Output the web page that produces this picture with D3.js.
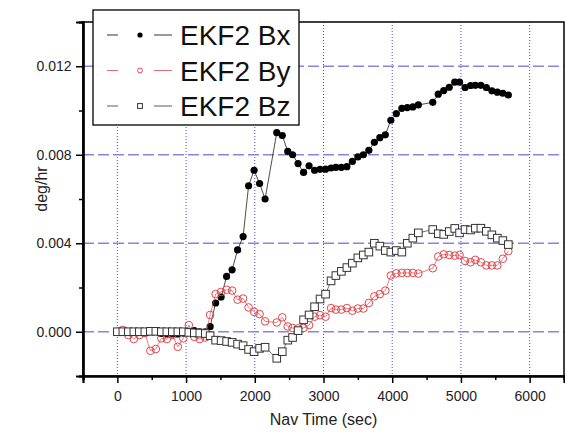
<!DOCTYPE html>
<html>
<head>
<meta charset="utf-8">
<script src="https://cdn.jsdelivr.net/npm/d3@7"></script>
<style>
    body { margin: 0; background: #fff; }
    text { font-family: Arial, "Liberation Sans", sans-serif; }
</style>
</head>
<body>
<div id="chart"></div>
<script>
// nav time (sec), shared by the three series
var navTime = [0, 80, 160, 240, 320, 400, 480, 560, 640, 720, 800, 880, 960, 1040, 1120, 1200, 1280,
    1350, 1430, 1510, 1590, 1670, 1750, 1830, 1910, 1990, 2070, 2150,
    2320, 2400, 2480, 2550, 2630, 2710, 2790, 2870, 2950, 3030, 3110, 3180, 3260, 3340, 3420, 3500,
    3580, 3660, 3740, 3820, 3900, 3980, 4060, 4140, 4220, 4300, 4380,
    4590, 4670, 4750, 4830, 4910, 4980, 5060, 5140, 5210, 5290, 5370, 5450, 5530, 5610, 5690];

var ekf2Bx = [0, 0, 0, 0, 0, -0.00005, 0, 0, -0.00008, -0.0001, -0.0001, -0.0001, -0.00006, 0.00002, 0.00005, 0, 0,
    0.00023, 0.0013, 0.00157, 0.0025, 0.0028, 0.0037, 0.0043, 0.0066, 0.0073, 0.0067, 0.0060,
    0.0090, 0.00887, 0.00815, 0.0080, 0.0076, 0.0072, 0.0075, 0.0073, 0.00734, 0.00735, 0.0074, 0.00743, 0.00743, 0.00746, 0.0077, 0.0079,
    0.0080, 0.0082, 0.00856, 0.00877, 0.0089, 0.00956, 0.00986, 0.0101, 0.01013, 0.01016, 0.01025,
    0.01037, 0.01074, 0.0109, 0.01105, 0.01128, 0.01128, 0.01104, 0.01113, 0.01114, 0.01114, 0.01104, 0.01089, 0.01083, 0.01078, 0.0107];

var ekf2By = [0, 0.00008, -0.00015, -0.00033, -0.00015, -0.00006, -0.00086, -0.00078, -0.0003, -0.00033, -0.00015, -0.00068, -0.0003, 0.0003, -0.00023, -0.00033, -0.00026,
    0.00076, 0.0017, 0.0018, 0.0019, 0.00186, 0.00145, 0.0015, 0.0011, 0.0009, 0.0008, 0.00047,
    0.00042, 0.00065, 0.00024, 0.00017, 0.00015, 0.00017, 0.0003, 0.00068, 0.00075, 0.00068, 0.00107, 0.001, 0.001, 0.00107, 0.00095, 0.00105,
    0.00105, 0.0013, 0.0016, 0.0017, 0.00186, 0.00254, 0.00264, 0.00266, 0.00266, 0.00266, 0.00263,
    0.00287, 0.0034, 0.0035, 0.00347, 0.00344, 0.00347, 0.0032, 0.00314, 0.00325, 0.00314, 0.003, 0.003, 0.003, 0.0033, 0.00364];

var ekf2Bz = [0, 0, 0, 0, 0, 0, 0.00002, 0.00002, 0, 0, 0, 0, 0, -0.00003, -0.00005, -0.00006, -0.00008,
    -0.00018, -0.00038, -0.0004, -0.00044, -0.00048, -0.00056, -0.00063, -0.0008, -0.0009, -0.00075, -0.0007,
    -0.0012, -0.0009, -0.00038, -0.00026, 0.00005, 0.00054, 0.00076, 0.00113, 0.00148, 0.0017, 0.0023, 0.00254, 0.00273, 0.0029, 0.0031, 0.00334,
    0.00347, 0.0036, 0.0040, 0.00387, 0.00367, 0.0036, 0.00367, 0.0036, 0.004, 0.00423, 0.00447,
    0.00462, 0.00443, 0.0044, 0.00453, 0.00467, 0.00447, 0.00462, 0.0046, 0.00468, 0.00468, 0.00454, 0.00438, 0.00423, 0.00412, 0.00394];

var seriesNames = ["EKF2 Bx", "EKF2 By", "EKF2 Bz"];
var xTicks = [0, 1000, 2000, 3000, 4000, 5000, 6000];
var yTicks = [0.000, 0.004, 0.008, 0.012];

var width = 565, height = 432;
var margin = {top: 22, right: 1, bottom: 56, left: 83};

var svg = d3.select("#chart")
    .append("svg")
    .attr("width", width)
    .attr("height", height);

var x = d3.scaleLinear().domain([-500, 6500]).range([margin.left, width - margin.right]);
var y = d3.scaleLinear().domain([-0.002, 0.014]).range([height - margin.bottom, margin.top]);

// grid
svg.append("g")
    .selectAll("line")
    .data(xTicks)
    .join("line")
    .attr("x1", d => x(d)).attr("x2", d => x(d))
    .attr("y1", y(0.014)).attr("y2", y(-0.002))
    .attr("stroke", "#4b47d6")
    .attr("stroke-width", 1)
    .attr("stroke-dasharray", "1,2");

svg.append("g")
    .selectAll("line")
    .data(yTicks)
    .join("line")
    .attr("x1", x(-500)).attr("x2", x(6500))
    .attr("y1", d => y(d)).attr("y2", d => y(d))
    .attr("stroke", "#8a85dc")
    .attr("stroke-width", 1.3)
    .attr("stroke-dasharray", "11,4");

// frame
svg.append("rect")
    .attr("x", x(-500)).attr("y", y(0.014))
    .attr("width", x(6500) - x(-500))
    .attr("height", y(-0.002) - y(0.014))
    .attr("fill", "none")
    .attr("stroke", "#000")
    .attr("stroke-width", 1.5);

// axes with major and minor ticks
var xAxis = d3.axisBottom(x).tickValues(xTicks).tickSize(7).tickFormat(d3.format("d"));
var xMinor = d3.axisBottom(x).tickValues(d3.range(-500, 6501, 1000)).tickSize(4).tickFormat("");
var yAxis = d3.axisLeft(y).tickValues(yTicks).tickSize(7).tickFormat(d3.format(".3f"));
var yMinor = d3.axisLeft(y).tickValues([-0.002, 0.002, 0.006, 0.010, 0.014]).tickSize(4).tickFormat("");

function styleAxis(g) {
    g.select(".domain").attr("stroke-width", 2.2);
    g.selectAll(".tick line").attr("stroke-width", 1.5);
    g.selectAll("text").attr("font-size", 14).attr("fill", "#222");
}

svg.append("g").attr("transform", `translate(0,${y(-0.002)})`).call(xAxis).call(styleAxis)
    .selectAll("text").attr("dy", "1.05em");
svg.append("g").attr("transform", `translate(0,${y(-0.002)})`).call(xMinor).call(styleAxis);
svg.append("g").attr("transform", `translate(${x(-500)},0)`).call(yAxis).call(styleAxis)
    .selectAll("text").attr("dx", "-0.1em");
svg.append("g").attr("transform", `translate(${x(-500)},0)`).call(yMinor).call(styleAxis);

// axis titles
svg.append("text")
    .attr("x", (x(-500) + x(6500)) / 2)
    .attr("y", 425)
    .attr("text-anchor", "middle")
    .attr("font-size", 16)
    .attr("fill", "#222")
    .text("Nav Time (sec)");

svg.append("text")
    .attr("transform", "translate(47,189) rotate(-90)")
    .attr("text-anchor", "middle")
    .attr("font-size", 16)
    .attr("fill", "#222")
    .text("deg/hr");

// series
var series = [
    {name: seriesNames[0], values: ekf2Bx, color: "#000", marker: "dot"},
    {name: seriesNames[1], values: ekf2By, color: "#e0474c", marker: "circle"},
    {name: seriesNames[2], values: ekf2Bz, color: "#333", marker: "square"}
];

var line = d3.line()
    .x(d => x(d[0]))
    .y(d => y(d[1]));

function drawMarker(g, s, cx, cy, r) {
    if (s.marker === "dot") {
        g.append("circle").attr("cx", cx).attr("cy", cy).attr("r", r)
            .attr("fill", s.color);
    } else if (s.marker === "circle") {
        g.append("circle").attr("cx", cx).attr("cy", cy).attr("r", r)
            .attr("fill", "none").attr("stroke", s.color).attr("stroke-width", 1);
    } else {
        g.append("rect").attr("x", cx - r).attr("y", cy - r)
            .attr("width", 2 * r).attr("height", 2 * r)
            .attr("fill", "#fff").attr("stroke", s.color).attr("stroke-width", 1);
    }
}

series.forEach(s => {
    var pts = navTime.map((t, i) => [t, s.values[i]]);
    var g = svg.append("g");
    g.append("path")
        .attr("d", line(pts))
        .attr("fill", "none")
        .attr("stroke", s.color)
        .attr("stroke-width", 0.7);
    pts.forEach(p => drawMarker(g, s, x(p[0]), y(p[1]), s.marker === "dot" ? 3.6 : 3.8));
});

// legend
var legend = svg.append("g");
legend.append("rect")
    .attr("x", 93).attr("y", 10)
    .attr("width", 206).attr("height", 115)
    .attr("fill", "#fff")
    .attr("stroke", "#000")
    .attr("stroke-width", 1.3);

series.forEach((s, i) => {
    var cy = 35 + i * 35.5;
    legend.append("line").attr("x1", 107).attr("x2", 118).attr("y1", cy).attr("y2", cy)
        .attr("stroke", s.color).attr("stroke-width", 0.8);
    legend.append("line").attr("x1", 154).attr("x2", 172).attr("y1", cy).attr("y2", cy)
        .attr("stroke", s.color).attr("stroke-width", 0.8);
    drawMarker(legend, s, 140, cy, s.marker === "dot" ? 2.6 : 2.4);
    legend.append("text")
        .attr("x", 180)
        .attr("y", cy + 10)
        .attr("font-size", 28)
        .attr("fill", "#111")
        .text(s.name);
});
</script>
</body>
</html>
